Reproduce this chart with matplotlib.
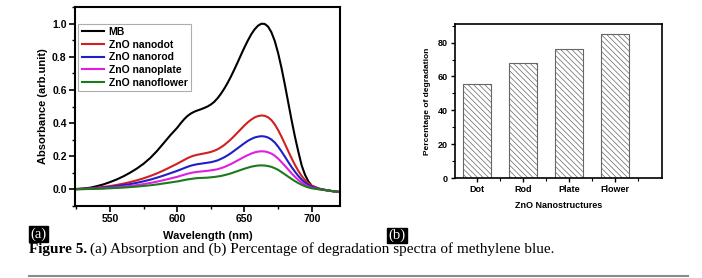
# Figure 5: MB absorption spectra (a) and degradation percentage (b)

import matplotlib.pyplot as plt
import numpy as np
from matplotlib.lines import Line2D
from matplotlib.ticker import MultipleLocator

plt.rcParams["font.family"] = ["Liberation Sans", "DejaVu Sans"]
plt.rcParams["hatch.color"] = "#9a9a9a"
plt.rcParams["hatch.linewidth"] = 0.5

# Panel (a) data (5 nm steps, 2.5 nm across the bands)
wavelength = np.concatenate([np.arange(525, 600, 5), np.arange(600, 700, 2.5),
                             np.arange(700, 721, 5)])
mb = [0.003, 0.005, 0.010, 0.019, 0.030, 0.044, 0.060, 0.079, 0.101, 0.126,
      0.155, 0.190, 0.232, 0.280, 0.328,
      0.372, 0.398, 0.422, 0.442, 0.457, 0.468, 0.476, 0.483, 0.491, 0.500,
      0.512, 0.528, 0.550, 0.577, 0.608, 0.643, 0.682, 0.724, 0.768, 0.813,
      0.857, 0.898, 0.935, 0.965, 0.987, 0.999, 0.998, 0.982, 0.948, 0.895,
      0.822, 0.733, 0.632, 0.525, 0.418, 0.318, 0.228, 0.145, 0.088, 0.048,
      0.022, 0.005, -0.004, -0.010, -0.015]
nanodot = [0.002, 0.004, 0.007, 0.010, 0.015, 0.020, 0.027, 0.035, 0.044, 0.055,
           0.067, 0.081, 0.097, 0.115, 0.135,
           0.155, 0.166, 0.177, 0.188, 0.197, 0.204, 0.209, 0.213, 0.217, 0.221,
           0.226, 0.233, 0.242, 0.254, 0.268, 0.285, 0.303, 0.323, 0.344, 0.365,
           0.386, 0.405, 0.421, 0.434, 0.442, 0.446, 0.444, 0.435, 0.418, 0.392,
           0.358, 0.318, 0.275, 0.231, 0.188, 0.148, 0.112, 0.081, 0.056, 0.037,
           0.022, 0.006, -0.003, -0.010, -0.015]
nanorod = [0.002, 0.003, 0.005, 0.007, 0.011, 0.015, 0.020, 0.026, 0.032, 0.040,
           0.049, 0.059, 0.071, 0.084, 0.098,
           0.112, 0.120, 0.128, 0.136, 0.143, 0.148, 0.152, 0.155, 0.158, 0.161,
           0.164, 0.169, 0.175, 0.184, 0.194, 0.206, 0.219, 0.234, 0.249, 0.264,
           0.279, 0.293, 0.304, 0.313, 0.318, 0.321, 0.319, 0.313, 0.301, 0.283,
           0.258, 0.229, 0.198, 0.166, 0.135, 0.107, 0.081, 0.059, 0.041, 0.027,
           0.016, 0.004, -0.003, -0.010, -0.015]
nanoplate = [0.001, 0.002, 0.003, 0.005, 0.007, 0.010, 0.013, 0.017, 0.021, 0.026,
             0.032, 0.039, 0.047, 0.056, 0.066,
             0.076, 0.082, 0.088, 0.094, 0.099, 0.103, 0.106, 0.108, 0.110, 0.112,
             0.115, 0.118, 0.122, 0.128, 0.135, 0.144, 0.153, 0.164, 0.175, 0.186,
             0.197, 0.207, 0.216, 0.223, 0.228, 0.230, 0.229, 0.224, 0.216, 0.203,
             0.186, 0.165, 0.143, 0.120, 0.097, 0.076, 0.057, 0.041, 0.028, 0.018,
             0.010, 0.002, -0.004, -0.010, -0.015]
nanoflower = [0.001, 0.002, 0.003, 0.004, 0.005, 0.007, 0.009, 0.011, 0.014, 0.017,
              0.021, 0.025, 0.030, 0.036, 0.042,
              0.048, 0.052, 0.056, 0.060, 0.063, 0.066, 0.068, 0.069, 0.070, 0.071,
              0.073, 0.075, 0.078, 0.081, 0.086, 0.091, 0.097, 0.104, 0.111, 0.118,
              0.125, 0.131, 0.137, 0.141, 0.144, 0.145, 0.144, 0.141, 0.136, 0.128,
              0.118, 0.105, 0.091, 0.077, 0.063, 0.050, 0.038, 0.028, 0.019, 0.012,
              0.007, 0.001, -0.004, -0.010, -0.015]

series_labels = ["MB", "ZnO nanodot", "ZnO nanorod", "ZnO nanoplate", "ZnO nanoflower"]
series_colors = ["black", "#d41f1f", "#1f1fc8", "#e01ee0", "#1b7a1b"]

# Panel (b) data
structures = ["Dot", "Rod", "Plate", "Flower"]
degradation = [55.5, 67.8, 76.5, 85.3]

fig = plt.figure(figsize=(7.02, 2.78), dpi=100)
W, H = 702, 278


def px_axes(left, top, right, bottom):
    return fig.add_axes([left / W, 1 - bottom / H, (right - left) / W, (bottom - top) / H])


# ---- panel (a)
ax1 = px_axes(75, 7, 340, 206)
for ys, lab, col in zip([mb, nanodot, nanorod, nanoplate, nanoflower], series_labels, series_colors):
    ax1.plot(wavelength, ys, color=col, lw=1.5, label=lab, solid_joinstyle="round")
ax1.set_xlim(524, 721)
ax1.set_ylim(-0.1, 1.1)
ax1.set_xticks([550, 600, 650, 700])
ax1.set_yticks([0.0, 0.2, 0.4, 0.6, 0.8, 1.0])
ax1.yaxis.set_major_formatter(plt.FormatStrFormatter("%.1f"))
ax1.xaxis.set_minor_locator(MultipleLocator(25))
ax1.yaxis.set_minor_locator(MultipleLocator(0.1))
ax1.tick_params(which="major", length=4, width=1.2, labelsize=7.5, pad=2)
ax1.tick_params(which="minor", length=2.5, width=1.0)
for t in ax1.get_xticklabels() + ax1.get_yticklabels():
    t.set_fontweight("bold")
for s in ax1.spines.values():
    s.set_linewidth(1.5)
ax1.set_xlabel("Wavelength (nm)", fontsize=8, fontweight="bold", labelpad=5)
ax1.set_ylabel("Absorbance (arb.unit)", fontsize=8, fontweight="bold", labelpad=3)
leg = ax1.legend(loc="upper left", bbox_to_anchor=(0.005, 0.925),
                 prop={"weight": "bold", "size": 7.5}, frameon=True, fancybox=False,
                 handlelength=2.2, handletextpad=0.4, borderpad=0.3, labelspacing=0.25,
                 borderaxespad=0.2)
leg.get_frame().set_edgecolor("#999999")
leg.get_frame().set_linewidth(0.8)

# ---- panel (b)
ax2 = px_axes(455, 24, 662, 178)
pos = np.arange(1, len(structures) + 1)
ax2.bar(pos, degradation, width=0.6, color="white", edgecolor="#666666",
        linewidth=0.8, hatch="\\" * 6)
ax2.set_xlim(0.52, 5.02)
ax2.set_ylim(0, 91)
ax2.set_xticks(pos)
ax2.set_xticklabels(structures)
ax2.set_yticks([0, 20, 40, 60, 80])
ax2.set_xticks([1.5, 2.5, 3.5, 4.5], minor=True)
ax2.yaxis.set_minor_locator(MultipleLocator(10))
ax2.tick_params(which="major", length=3, width=1.0, labelsize=6.5, pad=2)
ax2.tick_params(which="minor", length=2, width=0.8)
for t in ax2.get_xticklabels() + ax2.get_yticklabels():
    t.set_fontweight("bold")
for s in ax2.spines.values():
    s.set_linewidth(1.2)
ax2.set_xlabel("ZnO Nanostructures", fontsize=6.5, fontweight="bold", labelpad=5)
ax2.set_ylabel("Percentage of degradation", fontsize=6, fontweight="bold", labelpad=5)

# ---- panel tags
for txt, x, y in [("(a)", 38.5 / W, 1 - 234 / H), ("(b)", 397 / W, 1 - 235.5 / H)]:
    fig.text(x, y, txt, color="white", fontsize=10.5, family="Liberation Serif",
             ha="center", va="center",
             bbox=dict(boxstyle="square,pad=0.08", fc="black", ec="black"))

# ---- caption
cap1 = fig.text(29 / W, 1 - 253 / H, "Figure 5.", fontsize=11, fontweight="bold",
                family="Liberation Serif", va="baseline")
fig.canvas.draw()
bb = cap1.get_window_extent()
fig.text(bb.x1 / W + 3 / W, 1 - 253 / H,
         "(a) Absorption and (b) Percentage of degradation spectra of methylene blue.",
         fontsize=11, family="Liberation Serif", va="baseline")

fig.add_artist(Line2D([29 / W, 688 / W], [1 - 276 / H, 1 - 276 / H],
                      transform=fig.transFigure, color="#8a8a8a", lw=1.5))

fig.savefig("out.png", dpi=100)
